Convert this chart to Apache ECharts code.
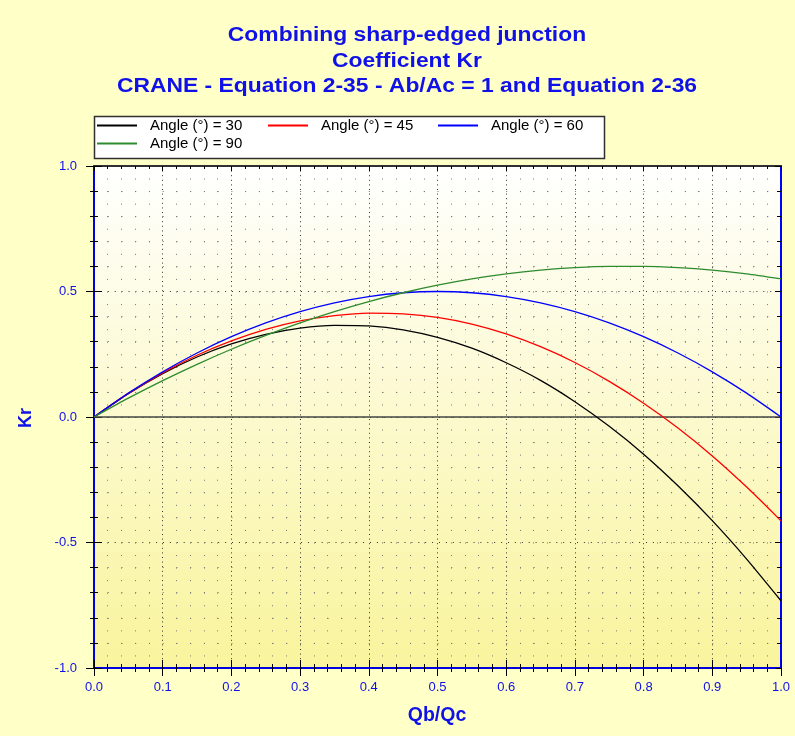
<!DOCTYPE html>
<html>
<head>
<meta charset="utf-8">
<script src="https://cdn.jsdelivr.net/npm/echarts@6/dist/echarts.min.js"></script>
<style>html,body{margin:0;padding:0;background:#FFFFC8;}#c{width:795px;height:736px;}</style>
</head>
<body>
<div id="c"></div>
<script>
var xs = [0, 0.05, 0.1, 0.15, 0.2, 0.25, 0.3, 0.35, 0.4, 0.45, 0.5, 0.55, 0.6, 0.65, 0.7, 0.75, 0.8, 0.85, 0.9, 0.95, 1.0];
var kr30 = [0, 0.093, 0.173, 0.239, 0.291, 0.329, 0.354, 0.365, 0.363, 0.347, 0.317, 0.274, 0.216, 0.146, 0.061, -0.037, -0.148, -0.274, -0.413, -0.566, -0.732];
var kr45 = [0, 0.094, 0.176, 0.246, 0.303, 0.349, 0.383, 0.404, 0.414, 0.411, 0.397, 0.370, 0.331, 0.280, 0.217, 0.142, 0.055, -0.044, -0.155, -0.279, -0.414];
var kr60 = [0, 0.095, 0.180, 0.255, 0.320, 0.375, 0.420, 0.455, 0.480, 0.495, 0.500, 0.495, 0.480, 0.455, 0.420, 0.375, 0.320, 0.255, 0.180, 0.095, 0];
var kr90 = [0, 0.075, 0.145, 0.210, 0.270, 0.325, 0.375, 0.420, 0.460, 0.495, 0.525, 0.550, 0.570, 0.585, 0.595, 0.600, 0.600, 0.595, 0.585, 0.570, 0.550];
var seriesNames = ['Angle (°) = 30', 'Angle (°) = 45', 'Angle (°) = 60', 'Angle (°) = 90'];
var seriesColors = ['#000000', '#FF0000', '#0000FF', '#2E8B2E'];
var titleLines = ['Combining sharp-edged junction', 'Coefficient Kr', 'CRANE - Equation 2-35 - Ab/Ac = 1 and Equation 2-36'];
var xAxisName = 'Qb/Qc';
var yAxisName = 'Kr';

var BLUE = '#1010E8';
var FONT = 'Liberation Sans, Arial, sans-serif';
function pairs(ys) { return xs.map(function (x, i) { return [x, ys[i]]; }); }
var allY = [kr30, kr45, kr60, kr90];

var chart = echarts.init(document.getElementById('c'));
var series = allY.map(function (ys, i) {
  var s = {
    name: seriesNames[i], type: 'line', data: pairs(ys), smooth: 0.2,
    showSymbol: false, symbol: 'none', xAxisIndex: 0, yAxisIndex: 0,
    lineStyle: { color: seriesColors[i], width: 1.3 }, itemStyle: { color: seriesColors[i] },
    z: 5
  };
  if (i === 0) {
    s.markLine = { silent: true, symbol: 'none', label: { show: false },
      lineStyle: { color: '#454545', width: 1.5, type: 'solid' }, data: [{ yAxis: 0 }] };
  }
  return s;
});

var legendPos = [[97, 118], [268, 118], [438, 118], [97, 136]];
var legends = seriesNames.map(function (n, i) {
  return { data: [{ name: n, icon: 'rect' }], left: legendPos[i][0], top: legendPos[i][1], itemWidth: 40, itemHeight: 2, padding: 0,
    textStyle: { fontFamily: FONT, fontSize: 15, color: '#000', padding: [0, 0, 0, 8] }, selectedMode: false };
});

var graphics = titleLines.map(function (t, i) {
  return { type: 'text', x: 407, y: 36 + i * 25.5, scaleX: 1.173, style: { text: t, fill: BLUE, font: 'bold 19.5px ' + FONT, textAlign: 'center', textVerticalAlign: 'middle' } };
});
graphics.push({ type: 'rect', shape: { x: 94.5, y: 116.5, width: 510, height: 42 }, style: { fill: '#FFFFFF', stroke: '#303030', lineWidth: 1.5 }, z: -1 });
graphics.push({ type: 'text', x: 26, y: 418, rotation: Math.PI / 2, style: { text: yAxisName, fill: BLUE, font: 'bold 18px ' + FONT, textAlign: 'center', textVerticalAlign: 'middle' } });
graphics.push({ type: 'text', x: 437, y: 716, style: { text: xAxisName, fill: BLUE, font: 'bold 19.5px ' + FONT, textAlign: 'center', textVerticalAlign: 'middle' } });

var xBase = { type: 'value', min: 0, max: 1, interval: 0.1, gridIndex: 0 };
var yBase = { type: 'value', min: -1, max: 1, interval: 0.5, gridIndex: 0 };
function ext(a, b) { return Object.assign({}, a, b); }
function fmt(v) { return v.toFixed(1); }

chart.setOption({
  backgroundColor: '#FFFFC8',
  animation: false,
  graphic: graphics,
  legend: legends,
  grid: { left: 94, right: 14, top: 166, bottom: 68, show: true, borderWidth: 0,
    backgroundColor: { type: 'linear', x: 0, y: 0, x2: 0, y2: 1, colorStops: [{ offset: 0, color: '#FFFFFF' }, { offset: 1, color: '#F9F49C' }] } },
  xAxis: [
    ext(xBase, { position: 'bottom',
      axisLine: { show: true, onZero: false, lineStyle: { color: '#0000E0', width: 2 } },
      axisTick: { show: true, inside: false, length: 8, lineStyle: { color: '#000' } },
      minorTick: { show: true, splitNumber: 5, length: 4, lineStyle: { color: '#000' } },
      axisLabel: { color: BLUE, fontFamily: FONT, fontSize: 13, margin: 13, formatter: fmt },
      splitLine: { show: true, lineStyle: { color: '#333', type: [1, 3.6], width: 1 } },
      minorSplitLine: { show: true, lineStyle: { color: '#777', type: [1, 11.55], width: 1 } } }),
    ext(xBase, { position: 'bottom', offset: 0,
      axisLine: { show: false, onZero: false }, axisLabel: { show: false }, splitLine: { show: false },
      axisTick: { show: true, inside: true, length: 8, lineStyle: { color: '#000' } },
      minorTick: { show: true, splitNumber: 5, length: 4, lineStyle: { color: '#000' } } }),
    ext(xBase, { position: 'top', offset: 0,
      axisLine: { show: true, onZero: false, lineStyle: { color: '#303030', width: 2 } }, axisLabel: { show: false }, splitLine: { show: false },
      axisTick: { show: true, inside: true, length: 5, lineStyle: { color: '#000' } },
      minorTick: { show: true, splitNumber: 5, length: 3, lineStyle: { color: '#000' } } })
  ],
  yAxis: [
    ext(yBase, { position: 'left',
      axisLine: { show: true, onZero: false, lineStyle: { color: '#0000E0', width: 2 } },
      axisTick: { show: true, inside: false, length: 8, lineStyle: { color: '#000' } },
      minorTick: { show: true, splitNumber: 5, length: 4, lineStyle: { color: '#000' } },
      axisLabel: { color: BLUE, fontFamily: FONT, fontSize: 13, margin: 17, formatter: fmt },
      splitLine: { show: true, lineStyle: { color: '#333', type: [1, 5.9], width: 1 } },
      minorSplitLine: { show: true, lineStyle: { color: '#777', type: [1, 12.74], width: 1 } } }),
    ext(yBase, { position: 'left', offset: 0,
      axisLine: { show: false, onZero: false }, axisLabel: { show: false }, splitLine: { show: false },
      axisTick: { show: true, inside: true, length: 8, lineStyle: { color: '#000' } },
      minorTick: { show: true, splitNumber: 5, length: 4, lineStyle: { color: '#000' } } }),
    ext(yBase, { position: 'right', offset: 0,
      axisLine: { show: true, onZero: false, lineStyle: { color: '#0000FF', width: 2 } }, axisLabel: { show: false }, splitLine: { show: false },
      axisTick: { show: true, inside: true, length: 6, lineStyle: { color: '#000' } },
      minorTick: { show: true, splitNumber: 5, length: 4, lineStyle: { color: '#000' } } })
  ],
  series: series
});
</script>
</body>
</html>
